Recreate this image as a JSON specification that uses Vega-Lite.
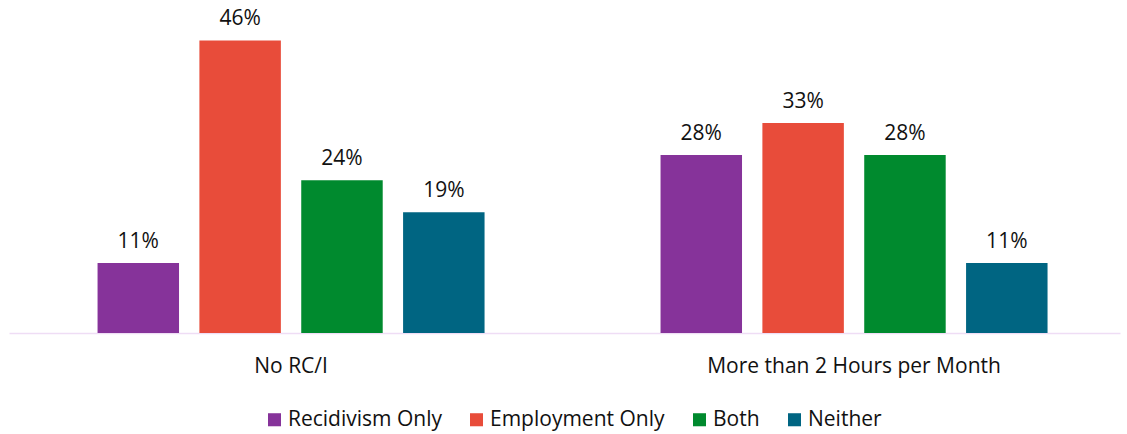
{
  "$schema": "https://vega.github.io/schema/vega-lite/v6.json",
  "width": 1111,
  "height": 318,
  "autosize": {"type": "none"},
  "padding": {"left": 9, "top": 15, "right": 7, "bottom": 101},
  "background": "white",
  "config": {"view": {"stroke": null}, "font": "Open Sans"},
  "data": {
    "values": [
      {"group": "No RC/I", "category": "Recidivism Only", "value": 0.11},
      {"group": "No RC/I", "category": "Employment Only", "value": 0.46},
      {"group": "No RC/I", "category": "Both", "value": 0.24},
      {"group": "No RC/I", "category": "Neither", "value": 0.19},
      {"group": "More than 2 Hours per Month", "category": "Recidivism Only", "value": 0.28},
      {"group": "More than 2 Hours per Month", "category": "Employment Only", "value": 0.33},
      {"group": "More than 2 Hours per Month", "category": "Both", "value": 0.28},
      {"group": "More than 2 Hours per Month", "category": "Neither", "value": 0.11}
    ]
  },
  "encoding": {
    "x": {
      "field": "group", "type": "nominal", "sort": null,
      "scale": {"paddingInner": 0.3126, "paddingOuter": 0.143, "align": 0.55},
      "axis": {"title": null, "labelAngle": 0, "ticks": false, "domainColor": "#EFDDF5", "domainWidth": 1.5,
               "labelFontSize": 21, "labelColor": "#111111", "labelPadding": 22, "labelFont": "Open Sans", "labelLimit": 0}
    },
    "xOffset": {"field": "category", "type": "nominal",
      "sort": ["Recidivism Only", "Employment Only", "Both", "Neither"],
      "scale": {"paddingInner": 0.2, "paddingOuter": 0}},
    "y": {"field": "value", "type": "quantitative", "scale": {"domain": [0, 0.5]}, "axis": null}
  },
  "layer": [
    {
      "mark": {"type": "bar"},
      "encoding": {
        "color": {
          "field": "category", "type": "nominal",
          "sort": ["Recidivism Only", "Employment Only", "Both", "Neither"],
          "scale": {"domain": ["Recidivism Only", "Employment Only", "Both", "Neither"],
                    "range": ["#86339A", "#E84C3A", "#008A2E", "#006582"]},
          "legend": {"title": null, "orient": "none", "direction": "horizontal", "legendX": 255, "legendY": 394,
                     "symbolType": "square", "symbolSize": 170, "labelFontSize": 21, "labelColor": "#111111",
                     "columnPadding": 24, "labelOffset": 3, "labelFont": "Open Sans", "symbolStrokeWidth": 0, "labelLimit": 0}
        }
      }
    },
    {
      "mark": {"type": "text", "baseline": "bottom", "dy": -11, "fontSize": 21, "color": "#111111"},
      "encoding": {"text": {"field": "value", "type": "quantitative", "format": ".0%"}}
    }
  ]
}
